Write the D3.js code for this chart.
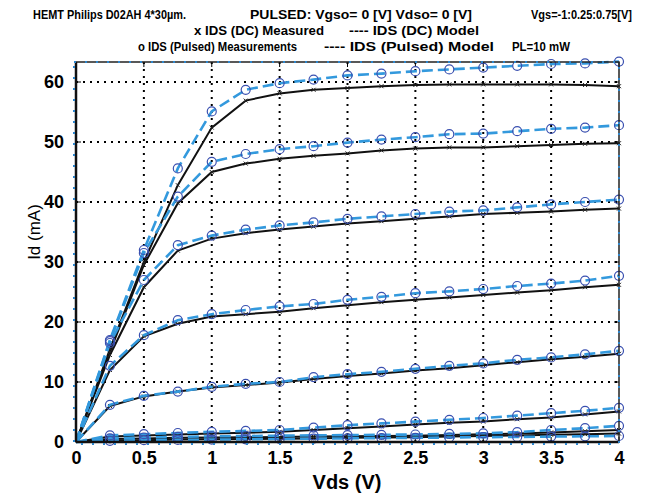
<!DOCTYPE html>
<html>
<head>
<meta charset="utf-8"/>
<title>HEMT IV curves</title>
<script src="https://d3js.org/d3.v7.min.js"></script>
<style>
  body { margin: 0; background: #fff; }
  svg { display: block; }
  text { font-family: "Liberation Sans", Arial, sans-serif; }
</style>
</head>
<body>
<div id="chart"></div>
<script>
// Vds sweep (V) and gate voltages
const vds = [0, 0.25, 0.5, 0.75, 1, 1.25, 1.5, 1.75, 2, 2.25, 2.5, 2.75, 3, 3.25, 3.5, 3.75, 4];
const vgs = [0.75, 0.5, 0.25, 0, -0.25, -0.5, -0.75, -1];

// Pulsed model / measurements (mA), one row per Vgs
const idsPulsed = [
  [0, 17.0, 32.0, 45.6, 55.1, 58.7, 59.8, 60.4, 61.1, 61.4, 61.8, 62.1, 62.4, 62.7, 63.0, 63.1, 63.4],
  [0, 16.8, 31.5, 40.9, 46.7, 48.0, 48.8, 49.3, 49.9, 50.4, 50.8, 51.3, 51.4, 51.8, 52.2, 52.4, 52.8],
  [0, 16.5, 27.0, 32.8, 34.4, 35.4, 36.1, 36.6, 37.2, 37.6, 38.0, 38.4, 38.6, 39.1, 39.6, 40.0, 40.4],
  [0, 12.7, 17.8, 20.3, 21.3, 22.0, 22.6, 23.0, 23.7, 24.2, 24.8, 25.1, 25.5, 26.0, 26.4, 26.9, 27.7],
  [0, 6.2, 7.7, 8.4, 9.2, 9.7, 10.0, 10.8, 11.3, 11.7, 12.2, 12.7, 13.1, 13.7, 14.1, 14.6, 15.2],
  [0, 1.1, 1.3, 1.5, 1.7, 1.85, 2.0, 2.4, 2.8, 3.1, 3.4, 3.7, 4.0, 4.4, 4.8, 5.2, 5.7],
  [0, 0.6, 0.75, 0.85, 0.95, 1.0, 1.05, 1.1, 1.15, 1.2, 1.25, 1.35, 1.45, 1.65, 2.0, 2.3, 2.7],
  [0, 0.2, 0.3, 0.35, 0.4, 0.45, 0.5, 0.55, 0.6, 0.65, 0.7, 0.75, 0.8, 0.85, 0.9, 0.95, 1.0]
];

// DC model / measurements (mA)
const idsDC = [
  [0, 15.5, 30.0, 42.8, 52.4, 56.9, 58.1, 58.7, 59.0, 59.3, 59.5, 59.6, 59.6, 59.6, 59.6, 59.5, 59.3],
  [0, 15.0, 29.5, 39.8, 45.0, 46.4, 47.2, 47.7, 48.1, 48.6, 48.9, 49.1, 49.1, 49.3, 49.5, 49.7, 49.8],
  [0, 14.5, 25.8, 31.9, 33.9, 34.8, 35.4, 35.9, 36.4, 36.8, 37.2, 37.6, 38.0, 38.2, 38.4, 38.7, 38.9],
  [0, 12.0, 17.6, 19.7, 20.9, 21.3, 21.7, 22.3, 22.8, 23.3, 23.7, 24.1, 24.5, 24.9, 25.3, 25.8, 26.2],
  [0, 6.0, 7.6, 8.4, 9.1, 9.5, 9.9, 10.5, 11.0, 11.4, 11.9, 12.3, 12.8, 13.3, 13.8, 14.2, 14.7],
  [0, 0.9, 1.1, 1.25, 1.4, 1.55, 1.7, 2.0, 2.3, 2.6, 2.9, 3.2, 3.4, 3.8, 4.1, 4.6, 5.1],
  [0, 0.5, 0.6, 0.7, 0.75, 0.8, 0.85, 0.9, 0.95, 1.0, 1.05, 1.15, 1.3, 1.4, 1.6, 1.8, 2.0],
  [0, 0.2, 0.3, 0.4, 0.45, 0.5, 0.55, 0.6, 0.7, 0.75, 0.8, 0.9, 1.0, 1.1, 1.2, 1.3, 1.4]
];

const xTicks = [0, 0.5, 1, 1.5, 2, 2.5, 3, 3.5, 4];
const yTicks = [0, 10, 20, 30, 40, 50, 60];

// title pieces: [text, x start, x end, baseline]
const titleParts = [
  ["HEMT Philips D02AH 4*30µm.", 33, 186, 19],
  ["PULSED: Vgso=  0 [V]  Vdso= 0 [V]", 250, 472, 19],
  ["Vgs=-1:0.25:0.75[V]", 531, 632, 19],
  ["x  IDS (DC)  Measured", 194, 324, 35],
  ["----  IDS (DC) Model", 349, 479, 35],
  ["o  IDS (Pulsed) Measurements", 138, 297, 51],
  ["----  IDS (Pulsed)  Model", 324, 494, 51],
  ["PL=10  mW", 512, 570, 51]
];

const width = 656, height = 493;
const plot = {left: 76, right: 619, top: 62, bottom: 442};

const svg = d3.select('#chart').append('svg')
  .attr('width', width)
  .attr('height', height);

const x = d3.scaleLinear().domain([0, 4]).range([plot.left, plot.right]);
const y = d3.scaleLinear().domain([0, (plot.bottom - plot.top) / 6]).range([plot.bottom, plot.top]);

// title
svg.selectAll('.title')
  .data(titleParts)
  .enter().append('text')
  .attr('x', d => d[1])
  .attr('y', d => d[3])
  .attr('textLength', d => d[2] - d[1])
  .attr('lengthAdjust', 'spacingAndGlyphs')
  .style('font-size', '13px')
  .style('font-weight', 'bold')
  .text(d => d[0]);

// dotted grid
const grid = svg.append('g')
  .attr('stroke', '#000')
  .attr('stroke-width', 2)
  .attr('stroke-dasharray', '2,5');
grid.selectAll('.gx')
  .data(xTicks.slice(1, -1))
  .enter().append('line')
  .attr('x1', d => x(d)).attr('x2', d => x(d))
  .attr('y1', plot.bottom).attr('y2', plot.top);
grid.selectAll('.gy')
  .data(yTicks.slice(1))
  .enter().append('line')
  .attr('y1', d => y(d)).attr('y2', d => y(d))
  .attr('x1', plot.left).attr('x2', plot.right);

// axes (labels only, ticks drawn inward)
const xAxis = svg.append('g')
  .attr('transform', `translate(0,${plot.bottom})`)
  .call(d3.axisBottom(x).tickValues(xTicks).tickFormat(d3.format('~g')).tickSize(0).tickPadding(9));
xAxis.select('.domain').remove();
xAxis.selectAll('text')
  .attr('fill', '#000')
  .style('font-size', '18px')
  .style('font-weight', 'bold')
  .style('font-family', '"Liberation Sans", Arial, sans-serif');

const yAxis = svg.append('g')
  .attr('transform', `translate(${plot.left},0)`)
  .call(d3.axisLeft(y).tickValues(yTicks).tickSize(0).tickPadding(12));
yAxis.select('.domain').remove();
yAxis.selectAll('text')
  .attr('fill', '#000')
  .style('font-size', '18px')
  .style('font-weight', 'bold')
  .style('font-family', '"Liberation Sans", Arial, sans-serif');

// inward tick marks on all four sides
const ticks = svg.append('g').attr('stroke', '#000').attr('stroke-width', 1);
ticks.selectAll('.tb').data(xTicks).enter().append('line')
  .attr('x1', d => x(d)).attr('x2', d => x(d)).attr('y1', plot.bottom).attr('y2', plot.bottom - 5);
ticks.selectAll('.tt').data(xTicks).enter().append('line')
  .attr('x1', d => x(d)).attr('x2', d => x(d)).attr('y1', plot.top).attr('y2', plot.top + 5);
ticks.selectAll('.tl').data(yTicks).enter().append('line')
  .attr('y1', d => y(d)).attr('y2', d => y(d)).attr('x1', plot.left).attr('x2', plot.left + 5);
ticks.selectAll('.tr').data(yTicks).enter().append('line')
  .attr('y1', d => y(d)).attr('y2', d => y(d)).attr('x1', plot.right).attr('x2', plot.right - 5);

// curves
const line = d3.line()
  .x((d, i) => x(vds[i]))
  .y(d => y(d));

svg.append('g').selectAll('path')
  .data(idsDC)
  .enter().append('path')
  .attr('d', line)
  .attr('fill', 'none')
  .attr('stroke', '#111')
  .attr('stroke-width', 2);

// DC measured markers (x)
const xm = svg.append('g').attr('stroke', '#222').attr('stroke-width', 1);
idsDC.forEach(row => {
  row.forEach((v, i) => {
    if (i === 0) return;
    const cx = x(vds[i]), cy = y(v);
    xm.append('path').attr('d', `M${cx - 2},${cy - 2}L${cx + 2},${cy + 2}M${cx - 2},${cy + 2}L${cx + 2},${cy - 2}`);
  });
});

svg.append('g').selectAll('path')
  .data(idsPulsed)
  .enter().append('path')
  .attr('d', line)
  .attr('fill', 'none')
  .attr('stroke', '#3399dd')
  .attr('stroke-width', 2.6)
  .attr('stroke-dasharray', '11,5');

// pulsed measured markers (o)
const om = svg.append('g');
idsPulsed.forEach(row => {
  om.selectAll(null)
    .data(row.slice(1))
    .enter().append('circle')
    .attr('cx', (d, i) => x(vds[i + 1]))
    .attr('cy', d => y(d))
    .attr('r', 4.5)
    .attr('fill', 'none')
    .attr('stroke', '#3a50b0')
    .attr('stroke-width', 1.2);
});

// frame
svg.append('rect')
  .attr('x', plot.left).attr('y', plot.top)
  .attr('width', plot.right - plot.left).attr('height', plot.bottom - plot.top)
  .attr('fill', 'none')
  .attr('stroke', '#222')
  .attr('stroke-width', 1.5);
svg.append('line')
  .attr('x1', plot.left).attr('x2', plot.left).attr('y1', plot.top).attr('y2', plot.bottom)
  .attr('stroke', '#111').attr('stroke-width', 2.5);
svg.append('line')
  .attr('x1', plot.left).attr('x2', plot.right).attr('y1', plot.bottom).attr('y2', plot.bottom)
  .attr('stroke', '#111').attr('stroke-width', 2.5);

// blue dotted overlay on the frame
svg.append('rect')
  .attr('x', plot.left - 2).attr('y', plot.top)
  .attr('width', plot.right - plot.left + 2).attr('height', plot.bottom - plot.top + 2)
  .attr('fill', 'none')
  .attr('stroke', '#2e86cc')
  .attr('stroke-width', 2)
  .attr('stroke-dasharray', '2,9');

// axis titles
svg.append('text')
  .attr('x', 347).attr('y', 489)
  .attr('text-anchor', 'middle')
  .style('font-size', '20px')
  .style('font-weight', 'bold')
  .text('Vds (V)');

svg.append('text')
  .attr('transform', 'translate(40,232) rotate(-90)')
  .attr('text-anchor', 'middle')
  .style('font-size', '17px')
  .text('Id (mA)');
</script>
</body>
</html>
